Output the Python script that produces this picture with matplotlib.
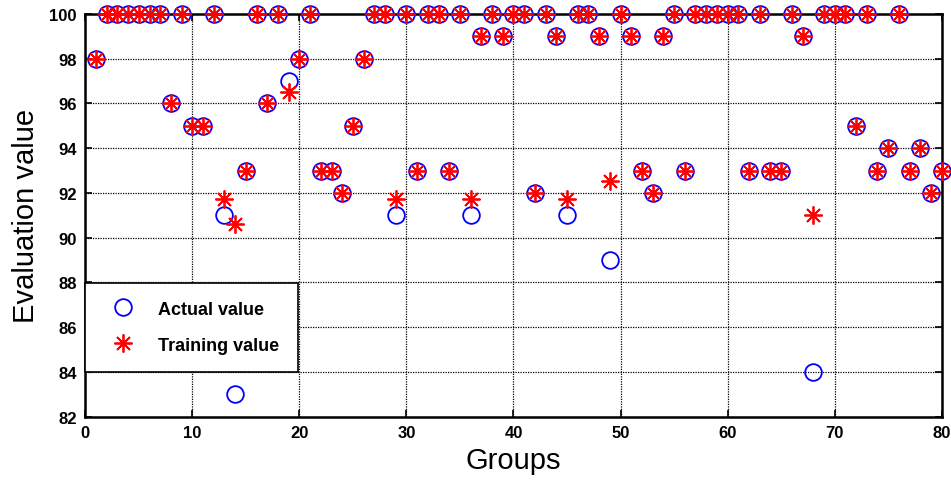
import numpy as np
import matplotlib
matplotlib.use("Agg")
import matplotlib.pyplot as plt

plt.rcParams['font.family'] = ['Liberation Sans', 'DejaVu Sans']

# group numbers 1..80
groups = list(range(1, 81))

# actual evaluation values (blue circles)
actual = [98, 100, 100, 100, 100, 100, 100, 96, 100, 95,
          95, 100, 91, 83, 93, 100, 96, 100, 97, 98,
          100, 93, 93, 92, 95, 98, 100, 100, 91, 100,
          93, 100, 100, 93, 100, 91, 99, 100, 99, 100,
          100, 92, 100, 99, 91, 100, 100, 99, 89, 100,
          99, 93, 92, 99, 100, 93, 100, 100, 100, 100,
          100, 93, 100, 93, 93, 100, 99, 84, 100, 100,
          100, 95, 100, 93, 94, 100, 93, 94, 92, 93]

# training (model output) values (red asterisks)
training = [98, 100, 100, 100, 100, 100, 100, 96, 100, 95,
            95, 100, 91.75, 90.6, 93, 100, 96, 100, 96.5, 98,
            100, 93, 93, 92, 95, 98, 100, 100, 91.75, 100,
            93, 100, 100, 93, 100, 91.75, 99, 100, 99, 100,
            100, 92, 100, 99, 91.75, 100, 100, 99, 92.55, 100,
            99, 93, 92, 99, 100, 93, 100, 100, 100, 100,
            100, 93, 100, 93, 93, 100, 99, 91, 100, 100,
            100, 95, 100, 93, 94, 100, 93, 94, 92, 93]

fig = plt.figure(figsize=(9.51, 4.81), dpi=100)
ax = fig.add_axes([0.0897, 0.1316, 0.9005, 0.8372])

ax.plot(groups, actual, linestyle='none', marker='o', markersize=12,
        markerfacecolor='none', markeredgecolor='#0000ff', markeredgewidth=1.3,
        label='Actual value', clip_on=False, zorder=3)
ax.plot(groups, training, linestyle='none', marker=(8, 2, 0), markersize=13,
        color='#ff0000', markeredgecolor='#ff0000', markeredgewidth=1.3,
        label='Training value', clip_on=False, zorder=4)

ax.set_xlim(0, 80)
ax.set_ylim(82, 100)
ax.set_xticks(np.arange(0, 81, 10))
ax.set_yticks(np.arange(82, 101, 2))
ax.tick_params(direction='in', length=5, width=1.2, labelsize=12, pad=6,
               top=True, right=True)
for lab in ax.get_xticklabels() + ax.get_yticklabels():
    lab.set_fontweight('bold')

ax.grid(True, color='black', linestyle=(0, (1, 1)), linewidth=0.9)
ax.set_axisbelow(True)
for s in ax.spines.values():
    s.set_linewidth(1.8)

ax.set_xlabel('Groups', fontsize=21, labelpad=4)
ax.set_ylabel('Evaluation value', fontsize=21, labelpad=7)

leg = ax.legend(loc='lower left', bbox_to_anchor=(0, 0.112), borderaxespad=0,
                fancybox=False, framealpha=1, edgecolor='black',
                prop={'weight': 'bold', 'size': 13}, borderpad=1.0,
                labelspacing=1.05, handlelength=2.2, handletextpad=0.85)
leg.get_frame().set_linewidth(1.2)
leg.set_zorder(5)

fig.savefig('out.png', dpi=100)
